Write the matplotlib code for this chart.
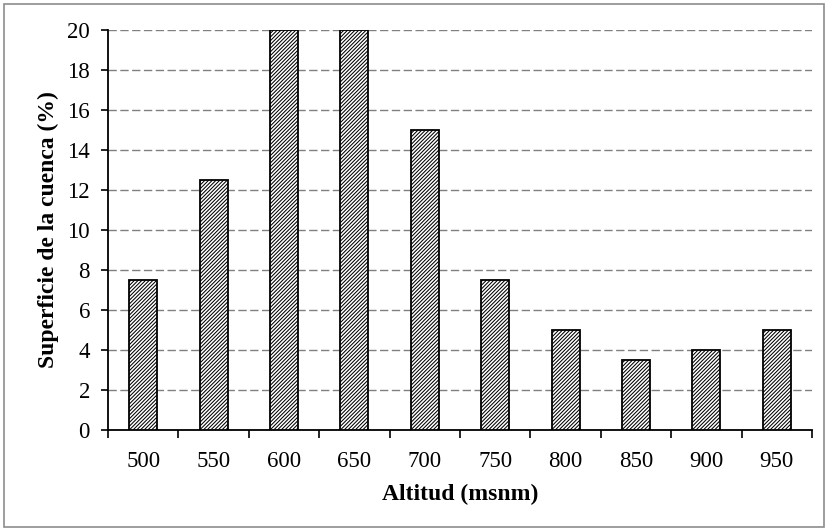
import matplotlib
matplotlib.use("Agg")
import matplotlib.pyplot as plt
import numpy as np
from matplotlib.patches import Rectangle

categories = ["500", "550", "600", "650", "700", "750", "800", "850", "900", "950"]
values = [7.5, 12.5, 20, 20, 15, 7.5, 5, 3.5, 4, 5]

plt.rcParams['font.family'] = ['Liberation Serif', 'DejaVu Serif']
plt.rcParams['hatch.linewidth'] = 0.75

fig = plt.figure(figsize=(8.29, 5.30), dpi=100)
ax = fig.add_axes([0.1303, 0.1887, 0.9795 - 0.1303, 0.9434 - 0.1887])

x = np.arange(len(categories))
ax.bar(x, values, width=0.4, color='white', edgecolor='black', linewidth=1.3,
       hatch='/////////', zorder=3)

ax.set_xlim(-0.5, len(categories) - 0.5)
ax.set_ylim(0, 20)
ax.set_yticks(np.arange(0, 21, 2))
ax.set_xticks(x)
ax.set_xticklabels(categories)
ax.set_xticks(np.arange(-0.5, len(categories), 1.0), minor=True)
ax.tick_params(axis='x', which='major', length=0, pad=15, labelsize=16.5)
ax.tick_params(axis='x', which='minor', length=6, width=1.2, direction='out')
ax.tick_params(axis='y', length=5, width=1.2, labelsize=16.5, pad=8)

ax.yaxis.grid(True, linestyle=(0, (6, 2.5)), color='#808080', linewidth=1.0, zorder=0)
for s in ['top', 'right']:
    ax.spines[s].set_visible(False)
for s in ['left', 'bottom']:
    ax.spines[s].set_linewidth(1.3)

ax.set_xlabel("Altitud (msnm)", fontsize=17, fontweight='bold', labelpad=9)
ax.set_ylabel("Superficie de la cuenca (%)", fontsize=17, fontweight='bold', labelpad=6)

fig.patches.append(Rectangle((4 / 829, 3 / 530), 820 / 829, 523 / 530, transform=fig.transFigure,
                             fill=False, edgecolor='#8c8c8c', linewidth=1.2))

fig.savefig("out.png", dpi=100)
